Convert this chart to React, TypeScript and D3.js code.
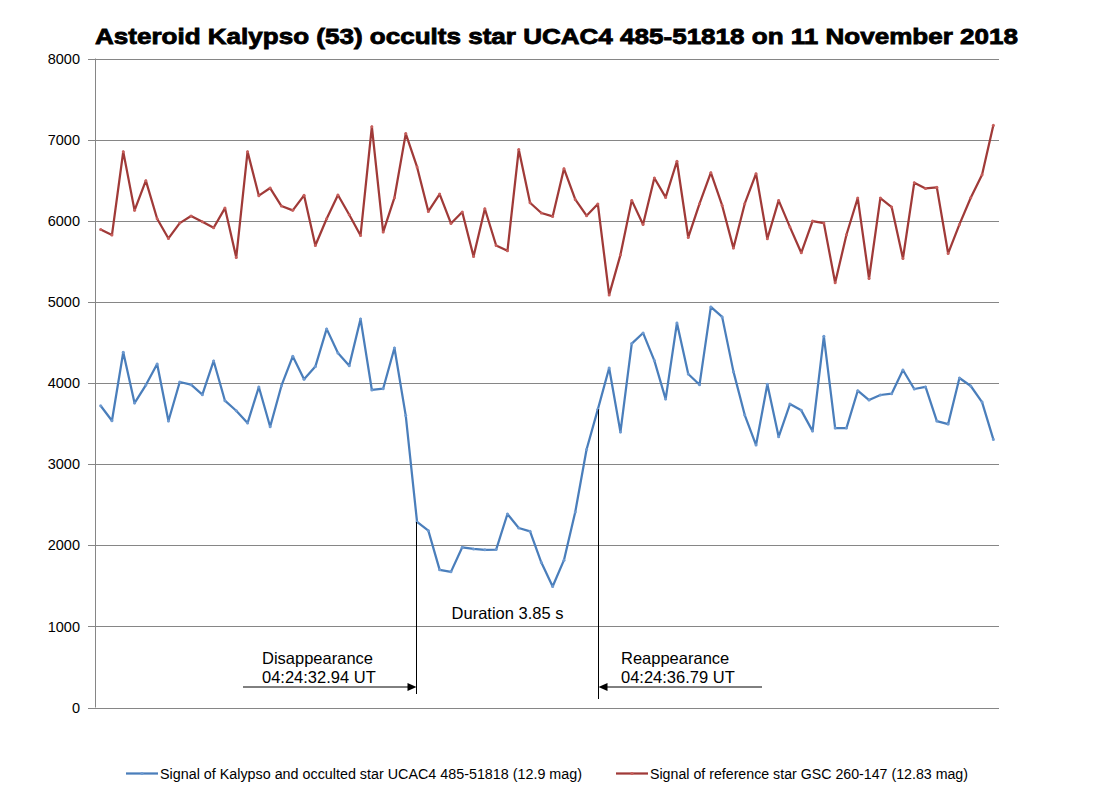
import { useRef, useEffect } from "react";
import * as d3 from "d3";

// signal of Kalypso + occulted star (blue)
const kalypso = [
    3720, 3535, 4379, 3753, 3975, 4235, 3531, 4012, 3979, 3856, 4272, 3782, 3658, 3506, 3951, 3461,
    3967, 4329, 4045, 4202, 4667, 4370, 4214, 4790, 3914, 3930, 4432, 3598,
    2287, 2180, 1697, 1672, 1975, 1955, 1943, 1947, 2385, 2213, 2172, 1787, 1492, 1816, 2410, 3180,
    3675, 4185, 3395, 4486, 4617, 4276, 3802, 4741, 4111, 3979, 4938, 4815, 4140, 3605, 3235, 3984,
    3337, 3741, 3663, 3407, 4576, 3444, 3444, 3905, 3790, 3852, 3868, 4160, 3926, 3951, 3531, 3494,
    4062, 3963, 3765, 3305,
];

// signal of reference star (red)
const reference = [
    5893, 5823, 6852, 6128, 6494, 6025, 5782, 5971, 6058, 5988, 5914, 6156, 5547, 6852, 6309, 6403,
    6181, 6128, 6313, 5695, 6025, 6317, 6074, 5819, 7160, 5860, 6284, 7074,
    6663, 6115, 6329, 5967, 6107, 5560, 6148, 5695, 5630, 6877, 6222, 6095, 6053, 6642, 6263, 6062,
    6206, 5086, 5580, 6251, 5955, 6527, 6288, 6733, 5794, 6210,
    6593, 6189, 5663, 6210, 6580, 5778, 6251, 5922, 5605, 5996, 5971, 5235, 5827, 6280, 5288, 6280,
    6169, 5535, 6469, 6399, 6412, 5597, 5955, 6284, 6568, 7177,
];

const y_ticks = [0, 1000, 2000, 3000, 4000, 5000, 6000, 7000, 8000];

const series_names = [
    "Signal of Kalypso and occulted star UCAC4 485-51818 (12.9 mag)",
    "Signal of reference star GSC 260-147 (12.83 mag)",
];

const title = "Asteroid Kalypso (53) occults star UCAC4 485-51818 on 11 November 2018";

// index of disappearance / reappearance frames
const disappear_index = 28;
const reappear_index = 44;
const disappear_label = ["Disappearance", "04:24:32.94 UT"];
const reappear_label = ["Reappearance", "04:24:36.79 UT"];
const duration_label = "Duration 3.85 s";

const svg_width = 1109;
const svg_height = 808;

export default function App() {
    const ref = useRef<HTMLDivElement>(null);

    useEffect(() => {
        const left = 95, right = 999, top = 58.5, bottom = 707.5;

        const x = d3.scalePoint<number>()
            .domain(d3.range(kalypso.length))
            .range([left, right])
            .padding(0.5);

        const y = d3.scaleLinear()
            .domain([0, 8000])
            .range([bottom, top]);

        const svg = d3.select(ref.current)
            .append("svg")
                .attr("width", svg_width)
                .attr("height", svg_height)
                .style("position", "absolute")
                .style("left", "0px")
                .style("top", "0px")
                .style("background", "#fff");

        // title
        svg.append("text")
            .attr("x", 556.5)
            .attr("y", 44)
            .attr("text-anchor", "middle")
            .attr("font-family", "Liberation Sans, Arial, sans-serif")
            .attr("font-weight", 700)
            .attr("font-size", 22)
            .attr("textLength", 923)
            .attr("lengthAdjust", "spacingAndGlyphs")
            .attr("stroke", "#000")
            .attr("stroke-width", 0.8)
            .text(title);

        // grid + y axis
        const grid = svg.append("g");
        y_ticks.forEach(t => {
            grid.append("line")
                .attr("x1", left - 7)
                .attr("x2", right)
                .attr("y1", Math.round(y(t)) + 0.5)
                .attr("y2", Math.round(y(t)) + 0.5)
                .attr("stroke", "#868686");
            grid.append("text")
                .attr("x", 80)
                .attr("y", y(t))
                .attr("dy", "0.36em")
                .attr("text-anchor", "end")
                .attr("font-family", "Liberation Sans, Arial, sans-serif")
                .attr("font-size", 14.5)
                .attr("fill", "#000")
                .text(t);
        });
        grid.append("line")
            .attr("x1", left + 0.5)
            .attr("x2", left + 0.5)
            .attr("y1", y(8000))
            .attr("y2", y(0))
            .attr("stroke", "#868686");

        const line = d3.line<number>()
            .x((_, i) => x(i)!)
            .y(d => y(d));

        const draw_series = (data: number[], stroke: string, marker: string) => {
            const g = svg.append("g");
            g.append("path")
                .datum(data)
                .attr("d", line)
                .attr("fill", "none")
                .attr("stroke", stroke)
                .attr("stroke-width", 2.25)
                .attr("stroke-linejoin", "round");
            g.selectAll("circle")
                .data(data)
                .join("circle")
                    .attr("cx", (_, i) => x(i)!)
                    .attr("cy", d => y(d))
                    .attr("r", 1.5)
                    .attr("fill", marker);
        };

        draw_series(kalypso, "#4a7ebb", "#6f9bd1");
        draw_series(reference, "#a03a38", "#c8605d");

        // annotations
        const ann = svg.append("g")
            .attr("font-family", "Liberation Sans, Arial, sans-serif")
            .attr("font-size", 16.5)
            .attr("fill", "#000");

        const xd = Math.round(x(disappear_index)!) - 0.5;
        const xr = Math.round(x(reappear_index)!) + 0.5;
        const arrow_y = 687;

        ann.append("line")
            .attr("x1", xd).attr("x2", xd)
            .attr("y1", y(kalypso[disappear_index])).attr("y2", 694)
            .attr("stroke", "#000");
        ann.append("line")
            .attr("x1", xr).attr("x2", xr)
            .attr("y1", y(kalypso[reappear_index])).attr("y2", 699)
            .attr("stroke", "#000");

        // disappearance arrow (pointing right)
        ann.append("line")
            .attr("x1", 243).attr("x2", xd - 8)
            .attr("y1", arrow_y).attr("y2", arrow_y)
            .attr("stroke", "#000");
        ann.append("path")
            .attr("d", `M${xd},${arrow_y} L${xd - 9},${arrow_y - 4} L${xd - 9},${arrow_y + 4} Z`)
            .attr("fill", "#000");

        // reappearance arrow (pointing left)
        ann.append("line")
            .attr("x1", 762).attr("x2", xr + 8)
            .attr("y1", arrow_y).attr("y2", arrow_y)
            .attr("stroke", "#000");
        ann.append("path")
            .attr("d", `M${xr},${arrow_y} L${xr + 9},${arrow_y - 4} L${xr + 9},${arrow_y + 4} Z`)
            .attr("fill", "#000");

        disappear_label.forEach((s, i) => {
            ann.append("text").attr("x", 262).attr("y", 664 + i * 19).text(s);
        });
        reappear_label.forEach((s, i) => {
            ann.append("text").attr("x", 621).attr("y", 664 + i * 19).text(s);
        });
        ann.append("text")
            .attr("x", (xd + xr) / 2)
            .attr("y", 619)
            .attr("text-anchor", "middle")
            .text(duration_label);

        // legend
        const legend = svg.append("g")
            .attr("font-family", "Liberation Sans Narrow, Arial Narrow, sans-serif")
            .attr("font-size", 14);
        const legend_items = [
            { x0: 126, width: 422, color: "#4a7ebb", marker: "#6f9bd1" },
            { x0: 616, width: 318, color: "#a03a38", marker: "#c8605d" },
        ];
        legend_items.forEach((it, i) => {
            legend.append("line")
                .attr("x1", it.x0).attr("x2", it.x0 + 32)
                .attr("y1", 773.5).attr("y2", 773.5)
                .attr("stroke", it.color)
                .attr("stroke-width", 2.25);
            legend.append("circle")
                .attr("cx", it.x0 + 16).attr("cy", 773.5).attr("r", 1.5)
                .attr("fill", it.marker);
            legend.append("text")
                .attr("x", it.x0 + 34)
                .attr("y", 778.5)
                .attr("textLength", it.width)
                .attr("lengthAdjust", "spacingAndGlyphs")
                .attr("fill", "#000")
                .text(series_names[i]);
        });

        return () => {
            d3.select(ref.current).selectAll("*").remove();
        };
    }, [ref]);

    return (
        <div ref={ref} />
    );
}
